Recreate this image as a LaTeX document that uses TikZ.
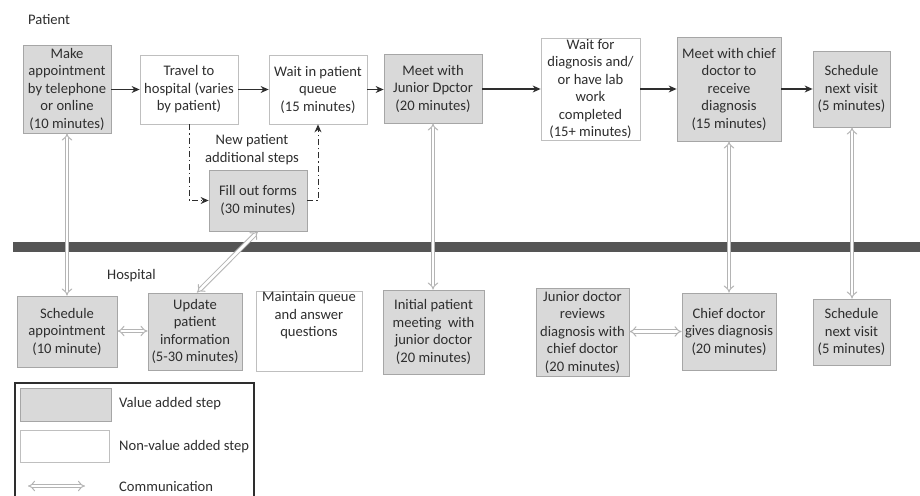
\documentclass[tikz,border=0pt]{standalone}
\usepackage{fontspec}
\setmainfont{Carlito}
\usetikzlibrary{arrows.meta}
\definecolor{txt}{HTML}{2E2E2E}
\definecolor{vafill}{HTML}{D9D9D9}
\definecolor{vadraw}{HTML}{A6A6A6}
\definecolor{nvdraw}{HTML}{BFBFBF}
\definecolor{bar}{HTML}{555555}
\definecolor{comm}{HTML}{B4B4B4}
\tikzset{
  base/.style={rectangle, inner sep=0pt, align=center, text=txt, line width=0.8pt,
    font=\fontsize{14.6}{17.5}\selectfont},
  va/.style={base, fill=vafill, draw=vadraw},
  nv/.style={base, fill=white, draw=nvdraw},
  lbl/.style={text=txt, inner sep=0pt, font=\fontsize{14.6}{17.5}\selectfont},
  flow/.style={draw=txt, line width=1.1pt, -{Stealth[length=8pt,width=7pt]}},
  dflow/.style={draw=txt, line width=1pt, dash pattern=on 6pt off 3pt on 1.2pt off 3pt,
    -{Stealth[length=8pt,width=7pt]}},
  commarrow/.style={draw=comm, line width=1pt, double=white, double distance=2.6pt,
    {Implies}-{Implies}},
}
\begin{document}
\begin{tikzpicture}[x=1pt,y=-1pt]
\useasboundingbox (0,0) rectangle (920,495);
\fill[white] (0,0) rectangle (920,495);

% labels
\node[lbl, anchor=west] (lpat) at (28,20) {Patient};
\node[lbl, anchor=west] (lhos) at (107,276) {Hospital};

% separator bar
\fill[bar] (13,242) rectangle (920,252);

% patient row
\node[va, minimum width=88pt, minimum height=88pt] (mk) at (67,89) {Make\\appointment\\by telephone\\or online\\(10 minutes)};
\node[nv, minimum width=98pt, minimum height=69pt] (tr) at (189,89.5) {Travel to\\hospital (varies\\by patient)};
\node[nv, minimum width=98pt, minimum height=69pt] (wq) at (318,89.5) {Wait in patient\\queue\\(15 minutes)};
\node[va, minimum width=98pt, minimum height=69pt] (mj) at (433,88.5) {Meet with\\Junior Dpctor\\(20 minutes)};
\node[nv, minimum width=99pt, minimum height=102pt] (wd) at (590.5,89) {Wait for\\diagnosis and/\\or have lab\\work\\completed\\(15+ minutes)};
\node[va, minimum width=104pt, minimum height=104pt] (mc) at (729,89) {Meet with chief\\doctor to\\receive\\diagnosis\\(15 minutes)};
\node[va, minimum width=77pt, minimum height=76pt] (sn) at (851.5,89) {Schedule\\next visit\\(5 minutes)};
\node[va, minimum width=98pt, minimum height=61pt] (ff) at (258,200.5) {Fill out forms\\(30 minutes)};
\node[lbl, align=center] (np) at (252,149.5) {New patient\\additional steps};

% hospital row
\node[va, minimum width=100pt, minimum height=71pt] (sa) at (67,331.5) {Schedule\\appointment\\(10 minute)};
\node[va, minimum width=94pt, minimum height=77pt] (up) at (195,331.5) {Update\\patient\\information\\(5-30 minutes)};
\node[nv, minimum width=106pt, minimum height=77pt] (mq) at (309,331.5) {Maintain queue\\and answer\\questions\\[17.5pt]};
\node[va, minimum width=101pt, minimum height=84pt] (ip) at (433.5,332) {Initial patient\\meeting\ \ with\\junior doctor\\(20 minutes)};
\node[va, minimum width=93pt, minimum height=88pt] (jr) at (582.5,332) {Junior doctor\\reviews\\diagnosis with\\chief doctor\\(20 minutes)};
\node[va, minimum width=94pt, minimum height=77pt] (cg) at (729,331.5) {Chief doctor\\gives diagnosis\\(20 minutes)};
\node[va, minimum width=77pt, minimum height=66pt] (sh) at (851.5,332) {Schedule\\next visit\\(5 minutes)};

% flow arrows
\draw[flow] (mk.east |- tr.east) -- (tr.east -| tr.west);
\draw[flow] (tr.east) -- (wq.west);
\draw[flow] (wq.east) -- (mj.west |- wq.east);
\draw[flow] (mj.east |- wd.west) -- (wd.west);
\draw[flow] (wd.east) -- (mc.west);
\draw[flow] (mc.east) -- (sn.west);

% new patient dash-dot path
\draw[dflow] (tr.south) |- (ff.west);
\draw[dflow] (ff.east) -| (wq.south);

% communication arrows
\draw[commarrow] (mk.south) -- (sa.north);
\draw[commarrow] (mj.south) -- (mj.south |- ip.north);
\draw[commarrow] (mc.south) -- (cg.north);
\draw[commarrow] ([xshift=0.5pt]sn.south) -- ([xshift=0.5pt]sh.north);
\draw[commarrow] (ff.south) -- ([xshift=2pt]up.north);
\draw[commarrow] ([yshift=0.5pt]sa.east) -- ([yshift=0.5pt]up.west);
\draw[commarrow] (jr.east |- cg.west) -- (cg.west);

% legend
\draw[draw=txt, line width=1.2pt] (15,497) -- (15,383) -- (254,383) -- (254,497);
\node[va, minimum width=91pt, minimum height=33pt] (lg1) at (65.5,404.5) {};
\node[nv, minimum width=89pt, minimum height=32pt] (lg2) at (64.5,446) {};
\node[lbl, anchor=west] (lt1) at (119,404) {Value added step};
\node[lbl, anchor=west] (lt2) at (119,447) {Non-value added step};
\node[lbl, anchor=west] (lt3) at (119,486) {Communication};
\coordinate (la) at (28,486);
\coordinate (lb) at (85,486);
\draw[commarrow] (la) -- (lb);
\end{tikzpicture}
\end{document}
